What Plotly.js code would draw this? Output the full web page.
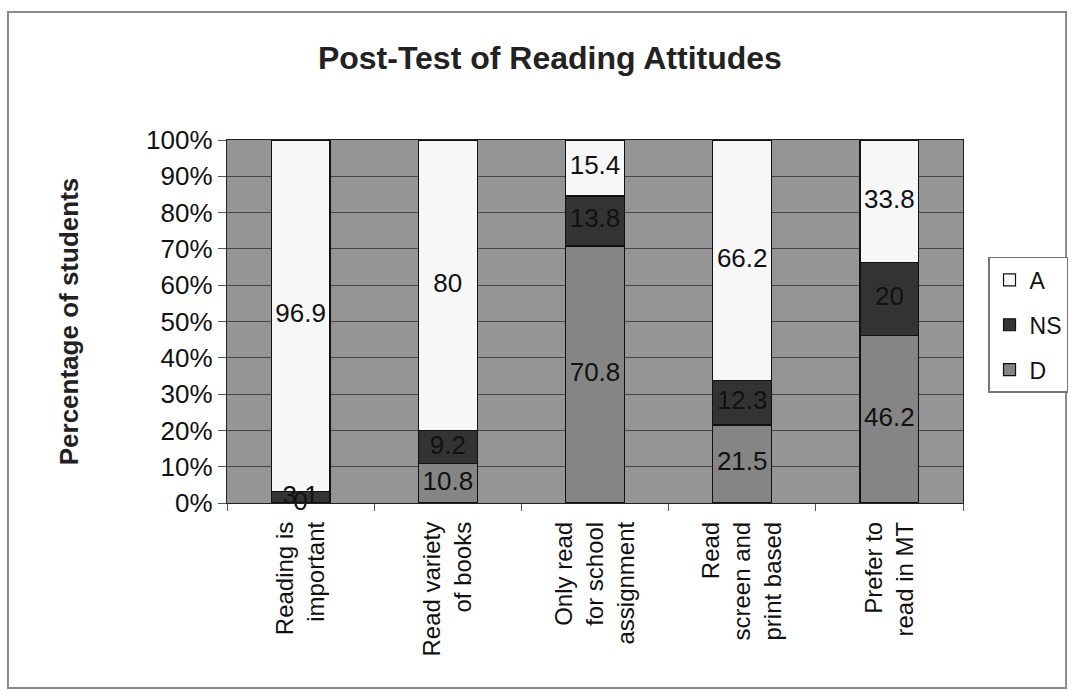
<!DOCTYPE html>
<html>
<head>
<meta charset="utf-8">
<script src="https://cdn.plot.ly/plotly-3.0.1.min.js"></script>
<style>html,body{margin:0;padding:0;background:#fff;}#chart{width:1074px;height:691px;}</style>
</head>
<body>
<div id="chart"></div>
<script>
const categories = [
  "Reading is<br>important",
  "Read variety<br>of books",
  "Only read<br>for school<br>assignment",
  "Read<br>screen and<br>print based",
  "Prefer to<br>read in MT"
];
const D  = [0, 10.8, 70.8, 21.5, 46.2];
const NS = [3.1, 9.2, 13.8, 12.3, 20];
const A  = [96.9, 80, 15.4, 66.2, 33.8];
const yTicks = [0, 10, 20, 30, 40, 50, 60, 70, 80, 90, 100];

const series = [
  {name: "D",  values: D,  color: "#858585", rank: 3},
  {name: "NS", values: NS, color: "#333333", rank: 2},
  {name: "A",  values: A,  color: "#f7f7f7", rank: 1}
];

const traces = [];
const base = categories.map(() => 0);
const labX = [], labY = [], labT = [];
series.forEach((s) => {
  traces.push({
    type: "bar", name: s.name, x: categories, y: s.values,
    marker: {color: s.color, line: {color: "#111", width: 1.2}},
    legendgroup: s.name, legendrank: s.rank, hoverinfo: "skip"
  });
  s.values.forEach((v, j) => {
    labX.push(categories[j]);
    labY.push(base[j] + v / 2);
    labT.push(String(v));
    base[j] += v;
  });
});
traces.push({
  type: "scatter", mode: "text", x: labX, y: labY, text: labT,
  textfont: {family: "Liberation Sans, Arial, sans-serif", size: 26, color: "#111"},
  showlegend: false, hoverinfo: "skip", cliponaxis: false
});

const layout = {
  width: 1074, height: 691,
  margin: {l: 227, r: 111, t: 140, b: 188, autoexpand: false},
  paper_bgcolor: "#ffffff",
  plot_bgcolor: "#959595",
  barmode: "stack",
  bargap: 0.6,
  font: {family: "Liberation Sans, Arial, sans-serif", color: "#111"},
  title: {
    text: "<b>Post-Test of Reading Attitudes</b>",
    font: {size: 32, color: "#222"},
    x: 0.512, xanchor: "center", y: 0.917, yanchor: "middle"
  },
  xaxis: {
    type: "category",
    tickangle: -90,
    tickfont: {size: 24, color: "#111"},
    ticks: "outside", tickson: "boundaries", ticklen: 7, tickcolor: "#555",
    showline: true, linecolor: "#222", linewidth: 1.2, mirror: true,
    showgrid: false, ticklabelstandoff: 8
  },
  yaxis: {
    range: [0, 100],
    tickvals: yTicks,
    ticktext: yTicks.map(v => v + "%"),
    tickfont: {size: 26, color: "#111"},
    ticks: "outside", ticklen: 8, tickcolor: "#555",
    showline: true, linecolor: "#222", linewidth: 1.2, mirror: true,
    showgrid: true, gridcolor: "#454545", gridwidth: 1,
    zeroline: false,
    title: {text: "<b>Percentage of students</b>", font: {size: 26, color: "#222"}, standoff: 60}
  },
  legend: {
    x: 1.034, xanchor: "left", y: 0.678, yanchor: "top",
    traceorder: "grouped", tracegroupgap: 12,
    bgcolor: "#ffffff", bordercolor: "#777", borderwidth: 1.5,
    font: {size: 23, color: "#111"}
  },
  shapes: [{
    type: "rect", xref: "paper", yref: "paper",
    x0: -0.2976, x1: 1.140, y0: -0.5096, y1: 1.3526,
    line: {color: "#8a8a8a", width: 2}, fillcolor: "rgba(0,0,0,0)", layer: "below"
  }]
};

Plotly.newPlot("chart", traces, layout, {staticPlot: true, displayModeBar: false});
</script>
</body>
</html>
